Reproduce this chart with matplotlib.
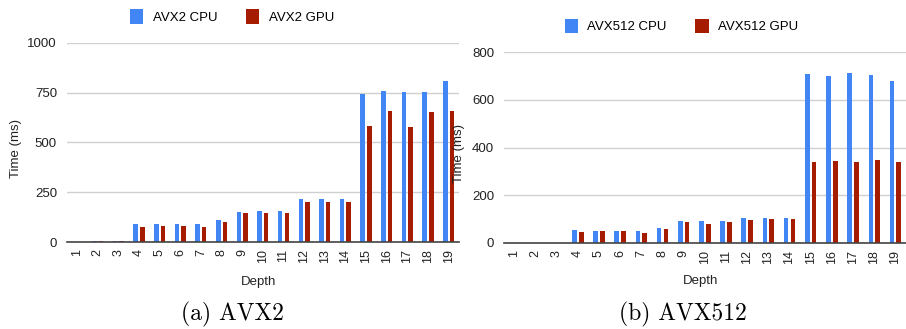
import numpy as np
import matplotlib
matplotlib.use("Agg")
import matplotlib.pyplot as plt

plt.rcParams['font.family'] = ['Liberation Sans', 'DejaVu Sans']

depths = list(range(1, 20))

avx2_cpu = [0, 5, 5, 89, 89, 89, 89, 112, 150, 157, 157, 217, 217, 217, 742, 761, 756, 756, 811]
avx2_gpu = [0, 5, 5, 77, 82, 82, 77, 100, 144, 144, 144, 200, 200, 200, 584, 660, 577, 655, 660]

avx512_cpu = [2, 2, 2, 54, 49, 49, 49, 63, 92, 92, 92, 105, 105, 105, 709, 699, 713, 703, 680]
avx512_gpu = [2, 2, 2, 47, 49, 49, 43, 57, 87, 81, 87, 97, 100, 100, 338, 343, 338, 347, 338]

BLUE = '#4285f4'
RED = '#a61c00'

fig = plt.figure(figsize=(9.06, 3.29), dpi=100)


def draw(rect, cpu, gpu, names, ymax, ystep, ylab_x, leg_xy, caption, cap_x):
    ax = fig.add_axes(rect)
    x = np.array(depths)
    w = 0.22
    b1 = ax.bar(x - 0.16, cpu, w, color=BLUE, label=names[0], zorder=3)
    b2 = ax.bar(x + 0.16, gpu, w, color=RED, label=names[1], zorder=3)
    ax.set_xlim(0.5, 19.5)
    ax.set_ylim(0, ymax)
    ax.set_yticks(np.arange(0, ymax + 1, ystep))
    ax.set_xticks(x)
    ax.set_xticklabels([str(d) for d in depths], rotation=90)
    ax.tick_params(axis='x', length=0, pad=5, labelsize=9, colors='#222222')
    ax.tick_params(axis='y', length=0, pad=7, labelsize=9.5, colors='#222222')
    ax.grid(axis='y', color='#d0d0d0', linewidth=1, zorder=0)
    for s in ['top', 'right', 'left']:
        ax.spines[s].set_visible(False)
    ax.spines['bottom'].set_color('#444444')
    ax.spines['bottom'].set_linewidth(1.2)
    ax.spines['bottom'].set_zorder(4)
    ax.set_ylabel('Time (ms)', fontsize=9.5, color='#222222')
    ax.yaxis.set_label_coords(ylab_x, 0.47)
    ax.set_xlabel('Depth', fontsize=9.5, color='#222222')
    ax.xaxis.set_label_coords(0.49, -0.17)
    fig.legend(handles=[b1, b2], loc='center', bbox_to_anchor=leg_xy,
               ncol=2, frameon=False, fontsize=9.5, handlelength=1.0,
               handleheight=1.35, handletextpad=0.7, columnspacing=2.2)
    fig.text(cap_x, 0.043, caption, ha='center', va='center',
             fontsize=17, family=['cmr10'])
    return ax


draw([0.0736, 0.2644, 0.433, 0.605], avx2_cpu, avx2_gpu,
     ['AVX2 CPU', 'AVX2 GPU'], 1000, 250, -0.115, (0.256, 0.951), '(a) AVX2', 0.257)
draw([0.556, 0.2614, 0.444, 0.580], avx512_cpu, avx512_gpu,
     ['AVX512 CPU', 'AVX512 GPU'], 800, 200, -0.097, (0.752, 0.921), '(b) AVX512', 0.754)

fig.savefig('out.png', dpi=100)
